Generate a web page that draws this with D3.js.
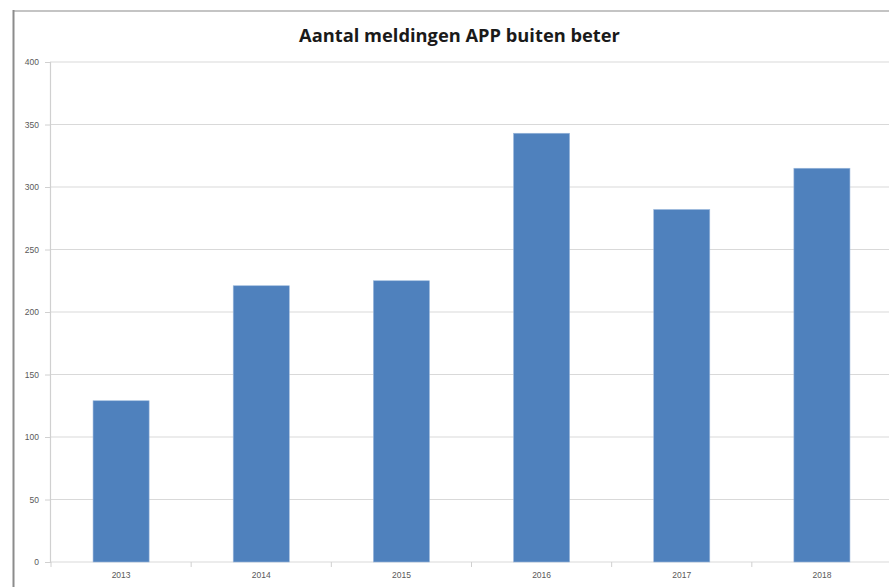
<!DOCTYPE html>
<html><head><meta charset="utf-8">
<script src="https://cdn.jsdelivr.net/npm/d3@7"></script>
<style>body{margin:0;background:#fff}svg{display:block}</style>
</head><body>
<svg id="c" width="889" height="587"></svg>
<script>
const categories = ["2013","2014","2015","2016","2017","2018"];
const values = [129, 221, 225, 343, 282, 315];
const yTicks = [0,50,100,150,200,250,300,350,400];
const title = "Aantal meldingen APP buiten beter";

const svg = d3.select("#c");
const mLeft = 50, mRight = 892, mTop = 62, mBottom = 562;

// frame lines
svg.append("line").attr("x1",14).attr("x2",889).attr("y1",11).attr("y2",11)
  .attr("stroke","#b0b0b0").attr("stroke-width",1.5);
svg.append("line").attr("x1",13.5).attr("x2",13.5).attr("y1",10).attr("y2",587)
  .attr("stroke","#8c8c8c").attr("stroke-width",2);

const x = d3.scaleBand().domain(categories).range([mLeft+1,mRight]).paddingInner(0.6).paddingOuter(0.3);
const y = d3.scaleLinear().domain([0,400]).range([mBottom,mTop]);

// gridlines
svg.append("g").selectAll("line").data(yTicks).join("line")
  .attr("x1",mLeft).attr("x2",889).attr("y1",d=>y(d)).attr("y2",d=>y(d))
  .attr("stroke","#d9d9d9").attr("stroke-width",1.2);

// y axis
const ya = svg.append("g").attr("transform",`translate(${mLeft},0)`)
  .call(d3.axisLeft(y).tickValues(yTicks).tickSize(5).tickPadding(6));
ya.select(".domain").attr("stroke","#d0d0d0").attr("stroke-width",1.2);
ya.selectAll(".tick line").attr("stroke","#d0d0d0");
ya.selectAll("text").attr("font-family","Liberation Sans, Arial, sans-serif").attr("font-size",8.5).attr("fill","#595959");

// bars
svg.append("g").selectAll("rect").data(values).join("rect")
  .attr("x",(d,i)=>x(categories[i])).attr("width",x.bandwidth())
  .attr("y",d=>y(d)).attr("height",d=>y(0)-y(d))
  .attr("fill","#4f81bd").attr("stroke","#9bb8dc").attr("stroke-width",0.6);

// x axis
const step = x.step();
const xa = svg.append("g").attr("transform",`translate(0,${mBottom})`)
  .call(d3.axisBottom(x).tickSize(0).tickPadding(10));
xa.select(".domain").remove();
xa.selectAll("text").attr("font-family","Liberation Sans, Arial, sans-serif").attr("font-size",8.5).attr("fill","#595959");
svg.append("g").selectAll("line").data(d3.range(categories.length+1)).join("line")
  .attr("x1",i=>mLeft+1+i*step).attr("x2",i=>mLeft+1+i*step).attr("y1",mBottom).attr("y2",mBottom+5)
  .attr("stroke","#d0d0d0");

// title
svg.append("text").attr("x",459.5).attr("y",42).attr("text-anchor","middle")
  .attr("font-family","Open Sans, Liberation Sans, sans-serif").attr("font-weight","bold")
  .attr("font-size",18.3).attr("fill","#1a1a1a").text(title);
</script>
</body></html>
